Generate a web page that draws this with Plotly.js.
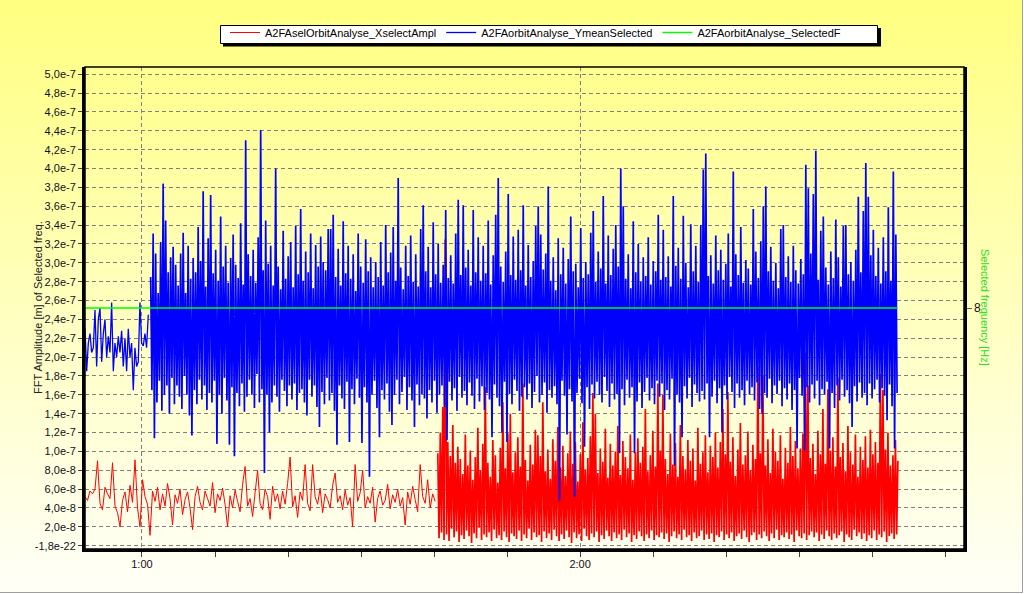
<!DOCTYPE html>
<html>
<head>
<meta charset="utf-8">
<script src="https://cdn.plot.ly/plotly-3.0.1.min.js"></script>
<style>
  html, body { margin: 0; padding: 0; background: #ffffff; }
  #wrap {
    width: 1023px; height: 593px; box-sizing: border-box;
    border-right: 1px solid #a0a0a0; border-bottom: 1px solid #a0a0a0;
    background: linear-gradient(to bottom, #ffff80 0%, #ffffbc 50%, #fffff8 100%);
  }
  #chart { width: 1022px; height: 592px; }
</style>
</head>
<body>
<div id="wrap"><div id="chart"></div></div>
<script>
// ---- data (amplitudes in nm, time in seconds) ----
const seriesNames = ['A2FAselOrbitAnalyse_XselectAmpl', 'A2FAorbitAnalyse_YmeanSelected', 'A2FAorbitAnalyse_SelectedF'];

const redSparseStart = 52.2;
const redSparseStep = 0.3425;
const redSparseValues = [
  52,48,58,55,60,90,45,38,62,55,50,88,42,35,20,48,57,36,64,46,
  91,40,20,70,52,44,11,58,47,62,38,55,42,66,50,22,54,45,60,33,
  49,57,40,17,52,63,46,38,58,50,42,67,35,55,48,61,44,20,53,40,
  59,47,36,65,84,42,50,31,56,80,45,38,60,52,28,63,47,55,39,58,
  44,66,94,41,53,30,57,48,86,45,37,86,52,44,61,35,55,49,40,64,
  77,46,53,38,59,43,51,20,86,47,56,80,40,52,45,62,25,50,58,43,
  48,65,39,54,46,60,42,51,22,57,44,63,49,36,86,52,45,70,40,55,47
];

const redDenseStart = 100.51;
const denseStep = 0.1712;
const redDenseValues = [
  98,8,120,14,147,6,325,12,110,5,95,18,128,9,88,15,105,4,92,11,
  76,7,118,16,85,10,101,3,70,13,94,8,125,19,80,6,108,12,168,9,
  88,14,73,5,112,17,96,8,67,11,104,6,152,15,82,9,119,4,140,13,
  78,10,99,7,115,16,84,5,172,12,91,8,69,18,107,6,86,14,123,9,
  117,11,95,4,152,15,79,8,102,13,71,6,113,17,90,10,126,5,83,12,
  106,7,74,16,98,9,121,3,87,14,110,8,68,12,97,5,131,18,81,10,
  93,6,116,13,162,9,140,15,77,4,103,11,89,7,124,16,72,10,108,5,
  85,14,100,8,127,12,75,6,111,17,94,9,82,13,118,4,70,11,99,7,
  114,15,88,10,105,5,145,12,79,8,96,16,122,6,84,11,172,9,101,14,
  160,7,92,13,76,4,119,10,86,15,109,8,73,12,128,6,95,17,81,9,
  112,11,90,5,103,14,69,8,125,10,87,16,99,6,117,12,78,7,106,13,
  94,4,120,11,83,9,110,15,145,6,97,12,163,8,89,14,115,5,74,10,
  102,13,130,7,86,16,96,9,121,4,80,11,107,14,92,6,190,12,98,8,
  181,15,85,10,113,5,77,13,124,8,100,17,90,6,117,11,71,9,104,14,
  88,7,126,12,95,4,111,16,82,10,103,8,119,13,205,6,170,11,93,15,
  108,9,76,14,122,5,97,12,145,7,87,16,166,10,101,6,115,13,84,8,
  178,11,94,15,109,4,79,12,127,9,99,6,86,17,118,10,73,14,105,7,
  91,13,116,5,83,11,123,8,97,16,110,6,88,12,182,9,165,15,102,4,
  120,10,85,13,96,7,112,12,90
];

const blueSparseStart = 52.2;
const blueSparseStep = 0.228;
const blueSparseValues = [
  230,185,215,225,205,210,250,190,240,252,195,225,240,200,222,205,258,185,215,200,
  222,205,228,190,220,185,230,200,215,165,210,190,195,258,215,212,225,210,245
];

const blueDenseStart = 61.19;
const blueDenseValues = [
  285,165,331,114,310,152,268,175,322,143,384,160,345,170,290,140,306,178,317,150,
  298,170,276,158,310,145,332,180,268,160,318,138,283,117,305,165,290,150,338,176,
  302,155,376,170,275,144,326,162,372,152,289,175,314,108,281,160,349,140,296,178,
  318,154,279,107,305,168,330,95,298,162,284,148,342,172,277,142,430,158,309,176,
  286,160,314,146,279,182,327,152,441,166,292,77,345,160,299,120,318,152,276,170,
  400,158,296,142,272,176,334,164,283,148,307,170,322,155,274,172,339,144,288,162,
  357,166,281,152,312,138,290,176,331,158,273,170,319,147,296,126,328,163,301,150,
  292,178,336,154,336,162,351,143,285,107,315,170,276,156,344,145,289,174,318,110,
  283,166,309,150,270,177,331,157,296,109,279,168,325,152,291,73,306,160,274,175,
  301,146,285,115,322,165,276,155,340,172,290,142,311,128,338,160,281,176,390,150,
  295,163,272,179,318,144,286,168,329,154,280,126,309,171,275,149,336,161,361,156,
  291,135,317,165,274,152,343,175,288,141,320,160,279,170,298,147,356,112,284,174,
  308,154,278,167,331,143,367,179,287,157,361,164,295,149,314,173,276,159,356,145,
  290,177,327,153,281,169,318,144,289,162,345,155,277,115,308,171,351,157,390,148,
  296,120,280,174,312,110,373,161,287,150,328,176,282,164,335,143,292,158,361,168,
  276,155,319,172,285,146,302,163,339,180,360,152,330,160,293,173,310,141,381,165,
  281,157,306,169,271,150,326,48,288,175,316,159,278,118,304,166,349,153,291,52,
  299,162,274,177,337,151,284,105,301,168,288,145,332,171,355,156,280,174,312,160,
  294,152,371,179,278,164,329,147,287,172,315,155,340,161,296,98,400,166,360,149,
  283,176,309,157,273,168,344,98,290,153,320,173,280,146,306,163,286,178,327,154,
  277,167,302,150,291,175,351,158,282,172,335,144,285,165,307,155,275,177,371,85,
  297,160,316,152,283,115,350,169,300,156,274,178,341,147,291,171,318,162,280,153,
  340,164,399,155,416,172,286,115,308,158,278,175,329,151,292,167,314,120,282,170,
  299,155,331,179,275,163,397,146,309,172,287,157,338,165,279,149,303,175,294,160,
  277,168,357,154,312,173,284,145,323,140,360,162,381,157,291,177,317,151,281,170,
  300,161,273,175,336,148,340,167,285,155,307,172,280,144,318,165,292,103,278,178,
  304,159,288,101,404,168,379,152,310,171,373,156,419,175,282,149,334,166,349,160,
  295,174,277,103,312,162,284,146,346,170,306,154,275,176,339,158,340,165,288,151,
  301,126,281,169,314,153,370,173,290,157,355,162,406,149,370,172,308,156,335,166,
  286,176,316,152,278,167,327,159,291,133,359,171,281,148,397,103,330,162
];

const greenTimes = [52.2, 163.5];
const greenValues = [8, 8];

const xTickValues = [60, 120];
const xTickLabels = ['1:00', '2:00'];
const yTickValues = [0,20,40,60,80,100,120,140,160,180,200,220,240,260,280,300,320,340,360,380,400,420,440,460,480,500];
const yTickLabels = ['-1,8e-22','2,0e-8','4,0e-8','6,0e-8','8,0e-8','1,0e-7','1,2e-7','1,4e-7','1,6e-7','1,8e-7','2,0e-7',
  '2,2e-7','2,4e-7','2,6e-7','2,8e-7','3,0e-7','3,2e-7','3,4e-7','3,6e-7','3,8e-7','4,0e-7','4,2e-7','4,4e-7','4,6e-7','4,8e-7','5,0e-7'];
const y2TickValues = [8];
const y2TickLabels = ['8'];

// ---- traces ----
const FONT = 'Liberation Sans, Arial, sans-serif';
const RED = '#ff0000', BLUE = '#0000ff', GREEN = '#00ff00';
const DENSE_W = 1.7;

const traces = [
  { type: 'scatter', mode: 'lines', name: seriesNames[0], legendgroup: 'r',
    x0: redSparseStart, dx: redSparseStep, y: redSparseValues,
    line: { color: RED, width: 1, simplify: false }, hoverinfo: 'skip' },
  { type: 'scatter', mode: 'lines', name: seriesNames[0], legendgroup: 'r', showlegend: false,
    x0: redDenseStart, dx: denseStep, y: redDenseValues,
    line: { color: RED, width: DENSE_W, simplify: false }, hoverinfo: 'skip' },
  { type: 'scatter', mode: 'lines', name: seriesNames[1], legendgroup: 'b',
    x0: blueSparseStart, dx: blueSparseStep, y: blueSparseValues,
    line: { color: BLUE, width: 1.3, simplify: false }, hoverinfo: 'skip' },
  { type: 'scatter', mode: 'lines', name: seriesNames[1], legendgroup: 'b', showlegend: false,
    x0: blueDenseStart, dx: denseStep, y: blueDenseValues,
    line: { color: BLUE, width: DENSE_W, simplify: false }, hoverinfo: 'skip' },
  { type: 'scatter', mode: 'lines', name: seriesNames[2], yaxis: 'y2',
    x: greenTimes, y: greenValues,
    line: { color: GREEN, width: 1.5 }, hoverinfo: 'skip' }
];

const px = v => (v - 85) / 879;   // plot-area pixel -> paper x
const py = v => (549 - v) / 482;  // plot-area pixel -> paper y

const layout = {
  width: 1022, height: 592,
  margin: { l: 85, r: 58, t: 67, b: 43 },
  paper_bgcolor: 'rgba(0,0,0,0)',
  plot_bgcolor: 'rgba(0,0,0,0)',
  font: { family: FONT, size: 11, color: '#000000' },
  showlegend: true,
  legend: {
    orientation: 'h', xref: 'container', yref: 'container',
    x: 225 / 1022, xanchor: 'left', y: 1 - 18 / 592, yanchor: 'top',
    bgcolor: 'rgba(0,0,0,0)', borderwidth: 0,
    font: { family: FONT, size: 11, color: '#000000' },
    itemwidth: 30, tracegroupgap: 0
  },
  xaxis: {
    range: [52.2, 172.56],
    tickmode: 'array', tickvals: xTickValues, ticktext: xTickLabels,
    ticks: 'outside', ticklen: 5, tickcolor: '#404040', tickwidth: 1,
    ticklabelstandoff: -2,
    tickfont: { family: FONT, size: 11, color: '#101018' },
    showgrid: true, gridcolor: '#808080', griddash: '4px,3px', gridwidth: 1,
    minor: { tickmode: 'linear', tick0: 0, dtick: 10, ticks: 'outside', ticklen: 5, tickcolor: '#404040', showgrid: false },
    showline: true, linecolor: '#000000', linewidth: 3,
    zeroline: false, fixedrange: true
  },
  yaxis: {
    range: [-3.5, 507.7],
    tickmode: 'array', tickvals: yTickValues, ticktext: yTickLabels,
    ticks: 'outside', ticklen: 4, tickcolor: '#404040',
    tickfont: { family: FONT, size: 11, color: '#101018' },
    showgrid: true, gridcolor: '#808080', griddash: '4px,3px', gridwidth: 1,
    showline: true, linecolor: '#000000', linewidth: 3,
    zeroline: false, fixedrange: true
  },
  yaxis2: {
    overlaying: 'y', side: 'right', range: [7, 9],
    tickmode: 'array', tickvals: y2TickValues, ticktext: y2TickLabels,
    ticks: 'outside', ticklen: 5, tickcolor: '#606060',
    tickfont: { family: FONT, size: 12, color: '#101018' },
    showgrid: false, zeroline: false,
    showline: true, linecolor: '#000000', linewidth: 2.5, fixedrange: true
  },
  shapes: [
    { type: 'rect', xref: 'paper', yref: 'paper', x0: 0, x1: 1, y0: 0, y1: 1,
      line: { color: '#000000', width: 1.5 }, fillcolor: 'rgba(0,0,0,0)', layer: 'above' },
    // legend shadow and legend box
    { type: 'rect', xref: 'paper', yref: 'paper',
      x0: px(223), x1: px(881), y0: py(46.5), y1: py(28),
      line: { width: 0 }, fillcolor: '#000000', layer: 'above' },
    { type: 'rect', xref: 'paper', yref: 'paper',
      x0: px(220.5), x1: px(877.5), y0: py(43.5), y1: py(25.5),
      line: { color: '#000000', width: 1 }, fillcolor: '#ffffff', layer: 'above' }
  ],
  annotations: [
    { xref: 'paper', yref: 'paper', x: px(38), y: 0.5, xanchor: 'center', yanchor: 'middle',
      text: 'FFT Amplitude [m] of Selected freq.', textangle: -90, showarrow: false,
      font: { family: FONT, size: 11, color: '#202020' } },
    { xref: 'paper', yref: 'paper', x: px(985), y: 0.5, xanchor: 'center', yanchor: 'middle',
      text: 'Selected frequency [Hz]', textangle: 90, showarrow: false,
      font: { family: FONT, size: 11, color: '#22e022' } }
  ]
};

Plotly.newPlot('chart', traces, layout, { staticPlot: true, displayModeBar: false });
</script>
</body>
</html>
